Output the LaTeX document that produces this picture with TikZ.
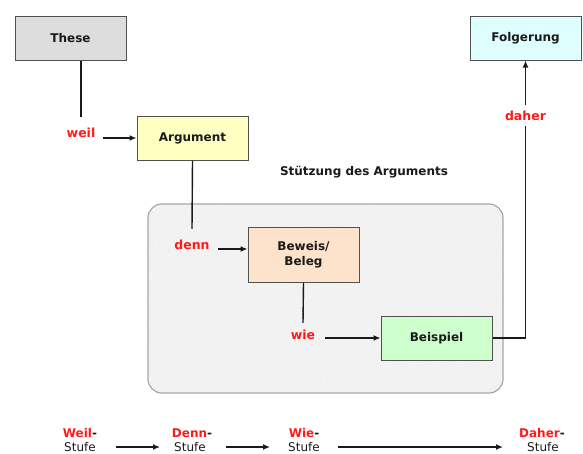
\documentclass[tikz,border=0pt]{standalone}
\usepackage{fontspec}
\setmainfont{DejaVu Sans}
\usetikzlibrary{arrows.meta,patterns.meta}
\definecolor{edge}{HTML}{505050}
\definecolor{ink}{HTML}{1A1A1A}
\definecolor{lblred}{HTML}{FF1A1A}
\definecolor{cThese}{HTML}{DDDDDD}
\definecolor{cArg}{HTML}{FFFFC2}
\definecolor{cBew}{HTML}{FDE3CB}
\definecolor{cBsp}{HTML}{CCFFCC}
\definecolor{cFol}{HTML}{DFFFFF}
\begin{document}
\begin{tikzpicture}[x=1pt,y=-1pt,
  box/.style={draw=edge, line width=1pt, minimum width=111pt, minimum height=44pt,
    inner sep=0pt, font=\bfseries\fontsize{12}{15}\selectfont, text=ink, align=center},
  lbl/.style={text=lblred, font=\bfseries\fontsize{12.5}{14}\selectfont, inner sep=1pt},
  ttl/.style={text=ink, font=\bfseries\fontsize{12}{14}\selectfont, inner sep=1pt},
  stg/.style={text=ink, font=\fontsize{12}{14}\selectfont, inner sep=1pt},
  conn/.style={line width=1.4pt, draw=ink},
  arr/.style={conn, -{Latex[length=7pt,width=6pt]}}
]
\useasboundingbox (0,0) rectangle (583,453);
% group background
\draw[rounded corners=14pt, draw=black!35, line width=1.2pt, fill=black!4] (148,204) rectangle (503,393);
\fill[rounded corners=14pt, pattern={Lines[angle=45,distance=2.5pt,line width=0.3pt]}, pattern color=black!9] (149,205) rectangle (502,392);

% boxes
\node[box, fill=cThese] (these) at (70.5,38) {These};
\node[box, fill=cArg] (arg) at (192.5,138) {Argument};
\node[box, fill=cBew, minimum height=55pt] (bew) at (303.5,254.5) {Beweis/\\Beleg};
\node[box, fill=cBsp] (bsp) at (436.5,338) {Beispiel};
\node[box, fill=cFol] (fol) at (525.5,38) {Folgerung};

% labels
\node[lbl] (weil) at (81,133) {weil};
\node[lbl] (denn) at (192,245) {denn};
\node[lbl] (wie) at (303,335) {wie};
\node[lbl] (daher) at (525.5,116) {daher};
\node[ttl] (stz) at (364,172) {Stützung des Arguments};

% connectors
\draw[conn] (weil.north |- these.south) -- ([yshift=10pt]weil.north);
\draw[arr] ([xshift=7pt]weil.east |- arg.west) -- (arg.west);
\draw[conn] (arg.south) -- ([yshift=10pt]denn.north);
\draw[arr] ([xshift=7pt]denn.east |- 0,249) coordinate (dstart) -- (bew.west |- dstart);
\draw[conn] (bew.south) -- ([yshift=6pt]wie.north);
\draw[arr] ([xshift=9pt]wie.east |- bsp.west) -- (bsp.west);
\draw[conn] (bsp.east) -| ([yshift=-4pt]daher.south);
\draw[arr] ([yshift=5pt]daher.north) -- (fol.south);

% stage row
\node[ttl] (s1t) at (80,433) {\textcolor{lblred}{Weil}-};
\node[stg] (s1b) at (80,447) {Stufe};
\node[ttl] (s2t) at (192,433) {\textcolor{lblred}{Denn}-};
\node[stg] (s2b) at (190,447) {Stufe};
\node[ttl] (s3t) at (304,433) {\textcolor{lblred}{Wie}-};
\node[stg] (s3b) at (304,447) {Stufe};
\node[ttl] (s4t) at (542,433) {\textcolor{lblred}{Daher}-};
\node[stg] (s4b) at (543,447) {Stufe};
\draw[arr] ([xshift=19pt]s1b.east) -- ([xshift=-13pt]s2b.west);
\draw[arr] ([xshift=19pt]s2b.east) -- ([xshift=-17pt]s3b.west);
\draw[arr] ([xshift=17pt]s3b.east) -- ([xshift=-23pt]s4b.west);
\end{tikzpicture}
\end{document}
